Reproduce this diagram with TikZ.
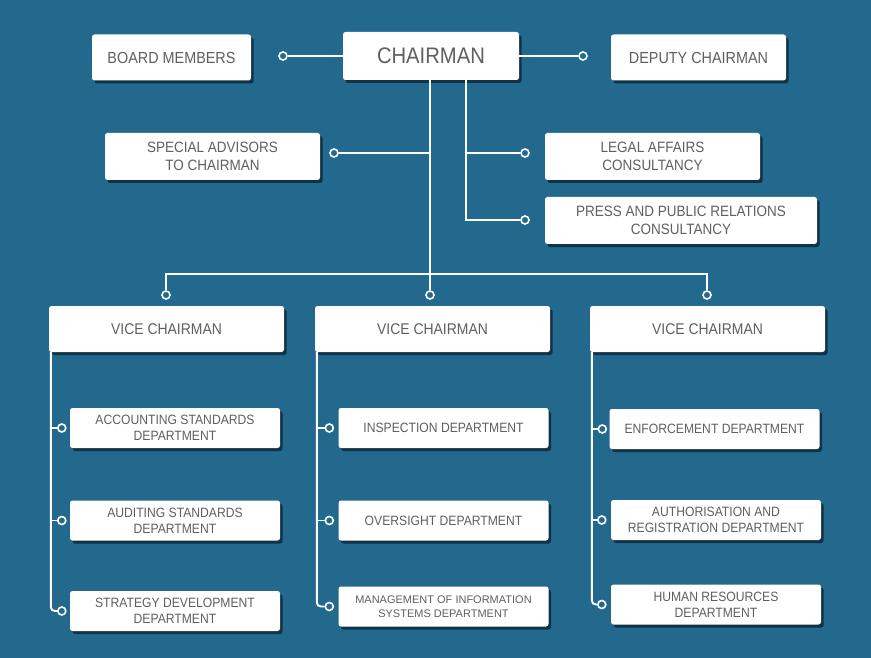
\documentclass[tikz,border=0pt]{standalone}
\usepackage{fontspec}
\setmainfont{Liberation Sans}[FakeStretch=0.9]
\newfontfamily\widefont{Liberation Sans}
\usetikzlibrary{shadows}

\definecolor{bgblue}{RGB}{35,105,142}
\definecolor{shadowblue}{RGB}{17,50,70}
\definecolor{labelgray}{RGB}{95,95,95}

\begin{document}
\begin{tikzpicture}[x=1pt,y=-1pt,
  box/.style={fill=white, rounded corners=2.5pt, text=labelgray, align=center,
    inner sep=0pt,
    general shadow={fill=shadowblue, shadow xshift=2.5pt, shadow yshift=-3pt}},
  topbox/.style={box, minimum height=46pt, font=\fontsize{16}{19}\selectfont},
  midbox/.style={box, minimum height=47pt, font=\fontsize{15}{18.5}\selectfont},
  vicebox/.style={box, minimum width=235pt, minimum height=46pt, font=\fontsize{15.5}{18}\selectfont},
  deptbox/.style={box, minimum width=210pt, minimum height=40pt, font=\fontsize{13.5}{16}\selectfont},
  link/.style={draw=white, line width=1.9pt},
  dot/.style={circle, draw=white, fill=bgblue, line width=1.6pt, minimum size=8pt, inner sep=0pt},
]
\useasboundingbox (0,0) rectangle (871,658);
\fill[bgblue] (0,0) rectangle (871,658);

% top row
\node[topbox, minimum width=176pt, minimum height=48pt, font=\fontsize{22.5}{26}\selectfont] (chair) at (431,56) {CHAIRMAN};
\node[topbox, minimum width=159pt] (board) at (171.5,57.5) {BOARD MEMBERS};
\node[topbox, minimum width=175pt] (deputy) at (698.5,57.5) {DEPUTY CHAIRMAN};

% advisors and consultancies
\node[midbox, minimum width=215pt] (special) at (212.5,156.5) {SPECIAL ADVISORS\\TO CHAIRMAN};
\node[midbox, minimum width=215pt] (legal) at (652.5,156.5) {LEGAL AFFAIRS\\CONSULTANCY};
\node[midbox, minimum width=272pt] (press) at (681,220.5) {PRESS AND PUBLIC RELATIONS\\CONSULTANCY};

% vice chairmen
\node[vicebox] (vice1) at (166.5,329) {VICE CHAIRMAN};
\node[vicebox] (vice2) at (432.5,329) {VICE CHAIRMAN};
\node[vicebox] (vice3) at (707.5,329) {VICE CHAIRMAN};

% departments
\node[deptbox] (acc) at (175,428) {ACCOUNTING STANDARDS\\DEPARTMENT};
\node[deptbox] (aud) at (175,520.5) {AUDITING STANDARDS\\DEPARTMENT};
\node[deptbox] (strat) at (175,611) {STRATEGY DEVELOPMENT\\DEPARTMENT};
\node[deptbox] (insp) at (443.5,428) {INSPECTION DEPARTMENT};
\node[deptbox] (overs) at (443.5,520.5) {OVERSIGHT DEPARTMENT};
\node[deptbox, font=\widefont\fontsize{11}{14}\selectfont] (mis) at (443.5,606.5) {MANAGEMENT OF INFORMATION\\SYSTEMS DEPARTMENT};
\node[deptbox] (enf) at (714.5,429) {ENFORCEMENT DEPARTMENT};
\node[deptbox] (auth) at (716,520) {AUTHORISATION AND\\REGISTRATION DEPARTMENT};
\node[deptbox] (hr) at (716,604.5) {HUMAN RESOURCES\\DEPARTMENT};

% junction dots
\node[dot] (dboard) at (283,56) {};
\node[dot] (ddeputy) at (583,56) {};
\node[dot] (dspecial) at (334,153) {};
\node[dot] (dlegal) at (525,153) {};
\node[dot] (dpress) at (525,220) {};
\node[dot] (dv1) at (166,295) {};
\node[dot] (dv2) at (430,295) {};
\node[dot] (dv3) at (707,295) {};
\node[dot] (dacc) at ([xshift=-8pt]acc.west) {};
\node[dot] (daud) at ([xshift=-8pt]aud.west) {};
\node[dot] (dstrat) at ([xshift=-8pt]strat.west) {};
\node[dot] (dinsp) at ([xshift=-9pt]insp.west) {};
\node[dot] (dovers) at ([xshift=-9pt]overs.west) {};
\node[dot] (dmis) at ([xshift=-9pt]mis.west) {};
\node[dot] (denf) at ([xshift=-7pt]enf.west) {};
\node[dot] (dauth) at ([xshift=-9pt]auth.west) {};
\node[dot] (dhr) at ([xshift=-9pt]hr.west) {};

% trunk coordinates
\coordinate (trunkL) at (430,274);
\coordinate (trunkR) at (466,220);
\coordinate (col1) at ([xshift=2pt]vice1.south west);
\coordinate (col2) at ([xshift=2pt]vice2.south west);
\coordinate (col3) at ([xshift=2pt]vice3.south west);

% chairman links
\draw[link] (chair.west) -- (dboard.east);
\draw[link] (chair.east) -- (ddeputy.west);
\draw[link] (chair.south -| trunkL) -- (trunkL);
\draw[link] (chair.south -| trunkR) -- (trunkR) -- (dpress.west);
\draw[link] (trunkR |- dlegal) -- (dlegal.west);
\draw[link] (dspecial.east) -- (trunkL |- dspecial);

% bar to vice chairmen
\draw[link] (dv1.north) -- (dv1.north |- trunkL) -- (dv3.north |- trunkL) -- (dv3.north);
\draw[link] (trunkL) -- (dv2.north);

% department columns
\draw[link, rounded corners=4pt] (col1) -- (col1 |- dstrat) -- (dstrat.west);
\draw[link] (col1 |- dacc) -- (dacc.west);
\draw[link] (col1 |- daud) -- (daud.west);
\draw[link, rounded corners=4pt] (col2) -- (col2 |- dmis) -- (dmis.west);
\draw[link] (col2 |- dinsp) -- (dinsp.west);
\draw[link] (col2 |- dovers) -- (dovers.west);
\draw[link, rounded corners=4pt] (col3) -- (col3 |- dhr) -- (dhr.west);
\draw[link] (col3 |- denf) -- (denf.west);
\draw[link] (col3 |- dauth) -- (dauth.west);
\end{tikzpicture}
\end{document}
